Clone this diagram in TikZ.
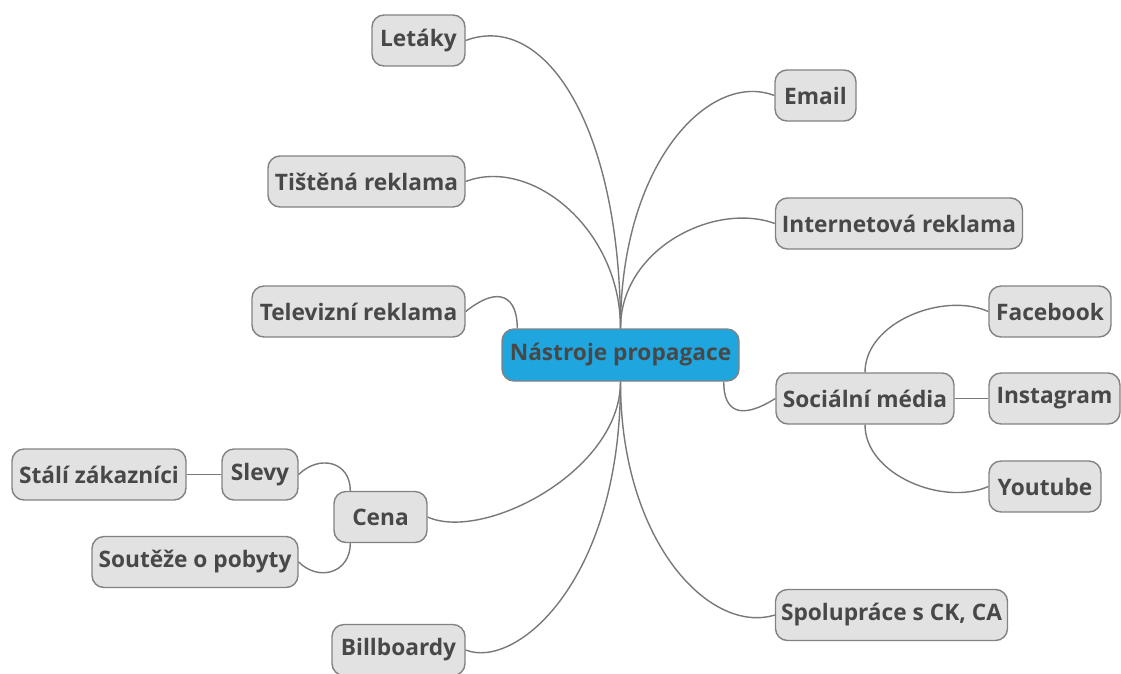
\documentclass[tikz,border=0pt]{standalone}
\usepackage{fontspec}
\setmainfont{Open Sans}
\definecolor{boxfill}{RGB}{226,226,226}
\definecolor{boxline}{RGB}{130,130,130}
\definecolor{txt}{RGB}{72,72,72}
\definecolor{rootfill}{RGB}{32,166,222}
\definecolor{edge}{RGB}{120,120,120}
\tikzset{
  mm/.style={draw=boxline, line width=1.4pt, fill=boxfill, rounded corners=12pt,
    minimum height=51pt, inner sep=0pt, text=txt,
    font=\fontsize{22.7}{26}\selectfont\bfseries},
  rootbox/.style={mm, fill=rootfill, minimum height=52pt},
  link/.style={draw=edge, line width=1.4pt},
}
\begin{document}
\begin{tikzpicture}[x=1pt,y=-1pt]
\useasboundingbox (0,0) rectangle (1121,673);
% nodes
\node[rootbox, minimum width=237pt] (root) at (620.5,355) {Nástroje propagace};
\node[mm, minimum width=93pt]  (letaky) at (418.5,40.5) {Letáky};
\node[mm, minimum width=81pt]  (email) at (815.5,95.5) {Email};
\node[mm, minimum width=197pt] (tistena) at (366.5,181.5) {Tištěná reklama};
\node[mm, minimum width=247pt] (internet) at (899,223.5) {Internetová reklama};
\node[mm, minimum width=213pt] (tv) at (358.5,311.5) {Televizní reklama};
\node[mm, minimum width=178pt] (social) at (865,398.5) {Sociální média};
\node[mm, minimum width=122pt] (fb) at (1050,311.5) {Facebook};
\node[mm, minimum width=131pt] (ig) at (1054.5,398.5) {Instagram};
\node[mm, minimum width=112pt] (yt) at (1045,486.5) {Youtube};
\node[mm, minimum width=174pt] (stali) at (99,474.5) {Stálí zákazníci};
\node[mm, minimum width=76pt]  (slevy) at (260,474.5) {Slevy};
\node[mm, minimum width=93pt]  (cena) at (380.5,517) {Cena};
\node[mm, minimum width=206pt] (soutez) at (195,562) {Soutěže o pobyty};
\node[mm, minimum width=133pt] (billboard) at (398.5,650) {Billboardy};
\node[mm, minimum width=232pt] (spoluprace) at (891.5,615) {Spolupráce s CK, CA};
% connectors from root (upwards)
\draw[link] (root.north) .. controls +(0,-200) and +(80,-30) .. (letaky.east);
\draw[link] (root.north) .. controls +(0,-100) and +(65,-25) .. (tistena.east);
\draw[link] ([xshift=16pt]root.north west) .. controls +(0,-30) and +(35,-28) .. (tv.east);
\draw[link] (root.north) .. controls +(0,-165) and +(-65,-25) .. (email.west);
\draw[link] (root.north) .. controls +(0,-80) and +(-60,-22) .. (internet.west);
% connectors from root (downwards)
\draw[link] ([xshift=-16pt]root.south east) .. controls +(0,30) and +(-35,22) .. (social.west);
\draw[link] (root.south) .. controls +(0,90) and +(55,25) .. (cena.east);
\draw[link] (root.south) .. controls +(0,200) and +(50,20) .. (billboard.east);
\draw[link] (root.south) .. controls +(0,160) and +(-65,20) .. (spoluprace.west);
% social children
\draw[link] (social.north) .. controls +(0,-50) and +(-45,-20) .. (fb.west);
\draw[link] (social.east) -- (ig.west);
\draw[link] (social.south) .. controls +(0,50) and +(-45,20) .. (yt.west);
% cena children
\draw[link] ([xshift=17pt]cena.north west) .. controls +(0,-30) and +(20,-20) .. (slevy.east);
\draw[link] ([xshift=17pt]cena.south west) .. controls +(0,30) and +(20,20) .. (soutez.east);
\draw[link] (slevy.west) -- (stali.east);
\end{tikzpicture}
\end{document}
